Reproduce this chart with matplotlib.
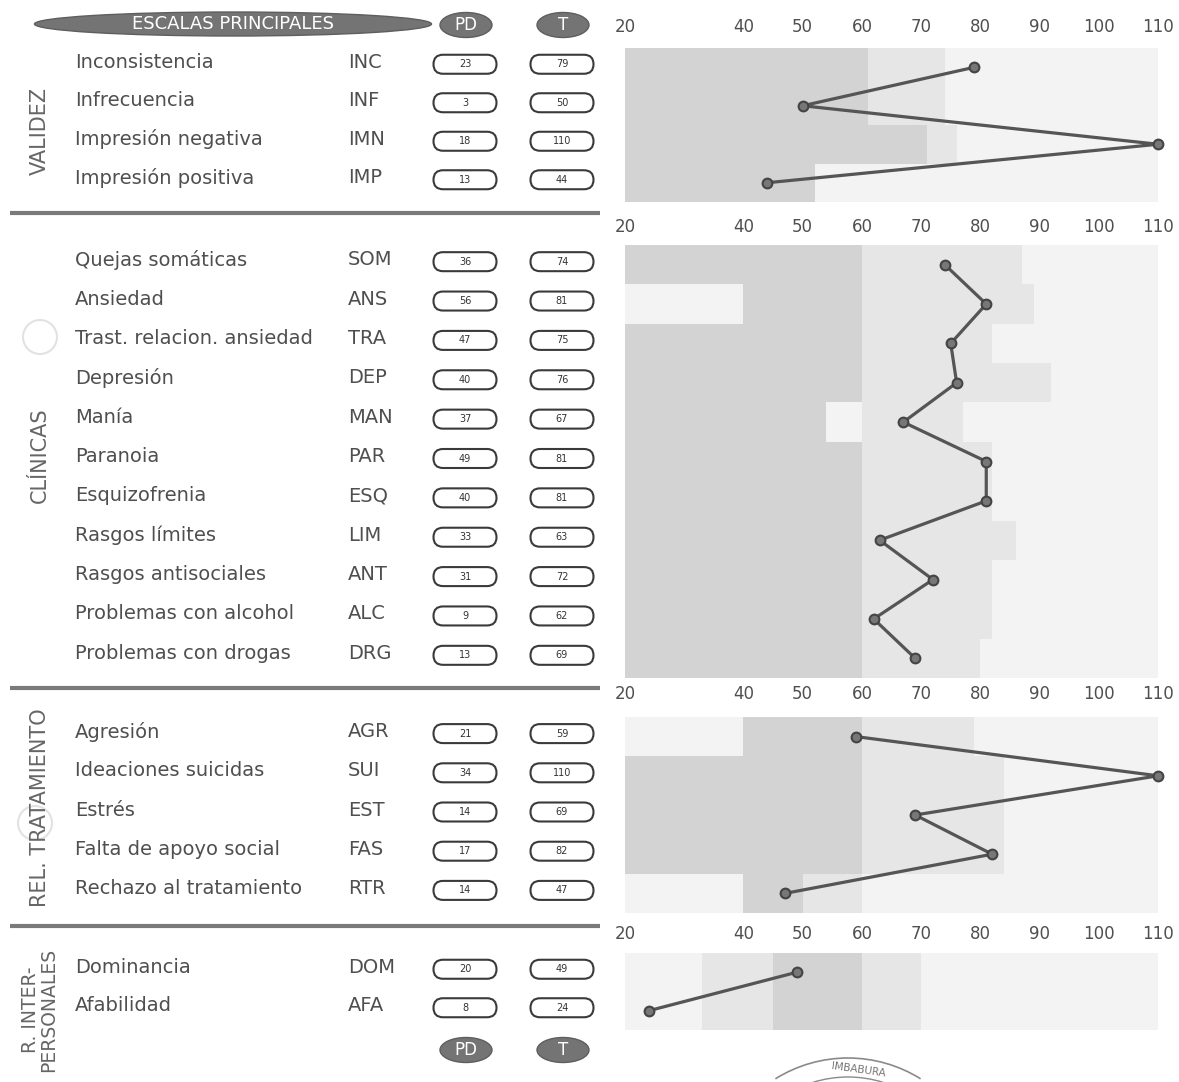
import matplotlib
matplotlib.use("Agg")
import matplotlib.pyplot as plt
from matplotlib.patches import Ellipse, FancyBboxPatch, Circle, Arc

W, H = 1179, 1082

# ---- data ----
ticks = [20, 40, 50, 60, 70, 80, 90, 100, 110]

val_names = ["Inconsistencia", "Infrecuencia", "Impresión negativa", "Impresión positiva"]
val_abbr = ["INC", "INF", "IMN", "IMP"]
val_pd = [23, 3, 18, 13]
val_t = [79, 50, 110, 44]
val_dark = [(20, 61), (20, 61), (20, 71), (20, 52)]
val_mid = [(61, 74), (61, 74), (71, 76), (52, 52)]

cli_names = ["Quejas somáticas", "Ansiedad", "Trast. relacion. ansiedad", "Depresión",
             "Manía", "Paranoia", "Esquizofrenia", "Rasgos límites",
             "Rasgos antisociales", "Problemas con alcohol", "Problemas con drogas"]
cli_abbr = ["SOM", "ANS", "TRA", "DEP", "MAN", "PAR", "ESQ", "LIM", "ANT", "ALC", "DRG"]
cli_pd = [36, 56, 47, 40, 37, 49, 40, 33, 31, 9, 13]
cli_t = [74, 81, 75, 76, 67, 81, 81, 63, 72, 62, 69]
cli_dark = [(20, 60), (40, 60), (20, 60), (20, 60), (20, 54), (20, 60),
            (20, 60), (20, 60), (20, 60), (20, 60), (20, 60)]
cli_mid = [(60, 87), (60, 89), (60, 82), (60, 92), (60, 77), (60, 82),
           (60, 82), (60, 86), (60, 82), (60, 82), (60, 80)]

rel_names = ["Agresión", "Ideaciones suicidas", "Estrés", "Falta de apoyo social",
             "Rechazo al tratamiento"]
rel_abbr = ["AGR", "SUI", "EST", "FAS", "RTR"]
rel_pd = [21, 34, 14, 17, 14]
rel_t = [59, 110, 69, 82, 47]
rel_dark = [(40, 60), (20, 60), (20, 60), (20, 60), (40, 50)]
rel_mid = [(60, 79), (60, 84), (60, 84), (60, 84), (50, 60)]

int_names = ["Dominancia", "Afabilidad"]
int_abbr = ["DOM", "AFA"]
int_pd = [20, 8]
int_t = [49, 24]
int_dark = [(45, 60), (45, 60)]
int_mid = [(33, 70), (33, 70)]

# layout of each block in pixels: band top, band bottom, title, title centre
sections = [
    dict(names=val_names, abbr=val_abbr, pd=val_pd, t=val_t, dark=val_dark, mid=val_mid,
         top=48, bottom=202, tick_gap=12, title="VALIDEZ", title_y=131, title_size=15),
    dict(names=cli_names, abbr=cli_abbr, pd=cli_pd, t=cli_t, dark=cli_dark, mid=cli_mid,
         top=245, bottom=678, tick_gap=9, title="CLÍNICAS", title_y=455, title_size=15),
    dict(names=rel_names, abbr=rel_abbr, pd=rel_pd, t=rel_t, dark=rel_dark, mid=rel_mid,
         top=717, bottom=913, tick_gap=14, title="REL. TRATAMIENTO", title_y=808, title_size=15),
    dict(names=int_names, abbr=int_abbr, pd=int_pd, t=int_t, dark=int_dark, mid=int_mid,
         top=953, bottom=1030, tick_gap=10, title="R. INTER-\nPERSONALES", title_y=1010,
         title_size=13.5),
]

TXT = "#4f4f4f"
DARK = "#d3d3d3"
MID = "#e6e6e6"
BASE = "#f3f3f3"
LINE = "#555555"

plt.rcParams["font.family"] = ["DejaVu Sans"]
fig = plt.figure(figsize=(W / 100, H / 100), dpi=100)

# background axes in pixel units for the form decorations and left-hand text
bg = fig.add_axes([0, 0, 1, 1])
bg.set_xlim(0, W)
bg.set_ylim(H, 0)
bg.axis("off")


def pill(cx, cy, text, w=63, h=19):
    box = FancyBboxPatch((cx - w / 2, cy - h / 2), w, h,
                         boxstyle="round,pad=0,rounding_size=9.5",
                         facecolor="white", edgecolor="#3a3a3a", lw=1.5)
    bg.add_patch(box)
    bg.text(cx, cy, str(text), ha="center", va="center", fontsize=7, color="#333333")


def dark_oval(cx, cy, text, w, h, size=12):
    bg.add_patch(Ellipse((cx, cy), w, h, facecolor="#747474", edgecolor="#5e5e5e", lw=1))
    bg.text(cx, cy, text, ha="center", va="center", fontsize=size, color="white")


# header
dark_oval(233, 24, "ESCALAS PRINCIPALES", 397, 24, size=13)
dark_oval(466, 25, "PD", 52, 25)
dark_oval(563, 25, "T", 52, 25)
dark_oval(466, 1050, "PD", 52, 25)
dark_oval(563, 1050, "T", 52, 25)

# separators between blocks
for y in [213, 688, 926]:
    bg.plot([10, 600], [y, y], color="#7a7a7a", lw=3, solid_capstyle="butt")

# punch holes and stamp (faint marks on the scan)
for cx, cy in [(40, 337), (35, 823)]:
    bg.add_patch(Circle((cx, cy), 17, facecolor="none", edgecolor="#e2e2e2", lw=1.5))
bg.add_patch(Arc((848, 1195), 274, 274, theta1=238, theta2=302, color="#8a8a8a", lw=1.2))
bg.add_patch(Arc((848, 1195), 236, 236, theta1=236, theta2=304, color="#8a8a8a", lw=1.0))
bg.text(858, 1070, "IMBABURA", ha="center", va="center", fontsize=7.5, color="#777777",
        rotation=-8)

x0, x1 = 625, 1158
for s in sections:
    n = len(s["names"])
    rows = list(range(n))
    step = (s["bottom"] - s["top"]) / n

    # left-hand labels
    for i in rows:
        y = s["top"] + (i + 0.5) * step - 5
        bg.text(75, y, s["names"][i], ha="left", va="center", fontsize=14, color=TXT)
        bg.text(348, y, s["abbr"][i], ha="left", va="center", fontsize=14, color=TXT)
        pill(465, y + 2, s["pd"][i])
        pill(562, y + 2, s["t"][i])
    bg.text(40, s["title_y"], s["title"], ha="center", va="center", rotation=90,
            fontsize=s["title_size"], color="#666666", linespacing=0.95)

    # profile plot
    ax = fig.add_axes([x0 / W, 1 - s["bottom"] / H, (x1 - x0) / W, (s["bottom"] - s["top"]) / H])
    ax.set_xlim(20, 110)
    ax.set_ylim(n - 0.5, -0.5)
    ax.barh(rows, 90, left=20, height=1.0, color=BASE, zorder=1)
    mid_lo = [m[0] for m in s["mid"]]
    mid_w = [m[1] - m[0] for m in s["mid"]]
    ax.barh(rows, mid_w, left=mid_lo, height=1.0, color=MID, zorder=2)
    d_lo = [d[0] for d in s["dark"]]
    d_w = [d[1] - d[0] for d in s["dark"]]
    ax.barh(rows, d_w, left=d_lo, height=1.0, color=DARK, zorder=3)
    ax.plot(s["t"], rows, "-o", color=LINE, lw=2.3, ms=7, mfc="#777777", mec="#444444",
            mew=1.5, clip_on=False, zorder=5)

    ax.xaxis.tick_top()
    ax.set_xticks(ticks)
    ax.set_xticklabels([str(v) for v in ticks])
    ax.tick_params(axis="x", length=0, pad=s["tick_gap"] * 0.72, labelsize=12, labelcolor=TXT)
    ax.set_yticks([])
    for sp in ax.spines.values():
        sp.set_visible(False)
    ax.patch.set_alpha(0)

fig.savefig("out.png", dpi=100, facecolor="white")
